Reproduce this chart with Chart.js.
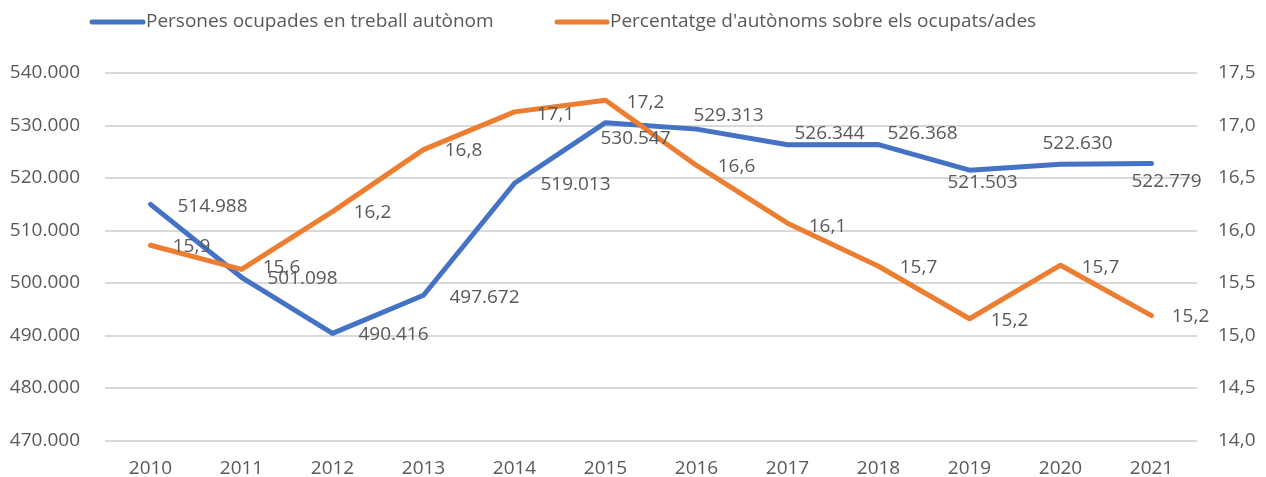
<!DOCTYPE html>
<html>
<head>
<meta charset="utf-8">
<script src="https://cdn.jsdelivr.net/npm/chart.js@4/dist/chart.umd.min.js"></script>
<style>
  html, body { margin: 0; padding: 0; background: #fff; }
  #wrap { width: 1266px; height: 477px; position: relative; }
</style>
</head>
<body>
<div id="wrap"><canvas id="chart"></canvas></div>
<script>
// dades
const years = ['2010','2011','2012','2013','2014','2015','2016','2017','2018','2019','2020','2021'];
const autonomous = [514988, 501098, 490416, 497672, 519013, 530547, 529313, 526344, 526368, 521503, 522630, 522779];
const percentage = [15.86, 15.63, 16.18, 16.77, 17.13, 17.24, 16.62, 16.07, 15.66, 15.16, 15.67, 15.19];
const seriesNames = ['Persones ocupades en treball autònom', "Percentatge d'autònoms sobre els ocupats/ades"];
const leftTicks = [470000, 540000, 10000];   // min, max, pas
const rightTicks = [14, 17.5, 0.5];

// posicions de les etiquetes (centre respecte al punt)
const blueLabelOffsets = [[62,2],[61,1],[61,1],[61,2],[61,1],[30,16],[32,-14],[42,-11],[44,-11],[13,12],[17,-21],[15,18]];
const orangeLabelOffsets = [[41,1],[40,-2],[40,1],[40,1],[41,3],[40,2],[40,1],[40,3],[40,1],[40,2],[40,2],[39,1]];

const C = { blue: '#4472C4', orange: '#ED7D31', text: '#595959', grid: '#d9d9d9' };
const FONT = '"Open Sans", "Liberation Sans", sans-serif';

const fmtThousands = v => Math.round(v).toString().replace(/\B(?=(\d{3})+(?!\d))/g, '.');
const fmtDecimal = v => Number(v).toFixed(1).replace('.', ',');

// etiquetes de dades
const dataLabels = {
  id: 'dataLabels',
  afterDatasetsDraw(chart) {
    const ctx = chart.ctx;
    ctx.save();
    ctx.font = '19px ' + FONT;
    ctx.fillStyle = C.text;
    ctx.textAlign = 'center';
    ctx.textBaseline = 'middle';
    chart.data.datasets.forEach((ds, k) => {
      const meta = chart.getDatasetMeta(k);
      const offs = k === 0 ? blueLabelOffsets : orangeLabelOffsets;
      const fmt = k === 0 ? fmtThousands : fmtDecimal;
      meta.data.forEach((pt, i) => {
        ctx.fillText(fmt(ds.data[i]), pt.x + offs[i][0], pt.y + offs[i][1]);
      });
    });
    ctx.restore();
  }
};

// llegenda a mida
const topLegend = {
  id: 'topLegend',
  afterDraw(chart) {
    const ctx = chart.ctx;
    const items = [[92, 143], [557, 607]];
    ctx.save();
    ctx.font = '19px ' + FONT;
    ctx.textBaseline = 'middle';
    chart.data.datasets.forEach((ds, k) => {
      const [x0, x1] = items[k];
      ctx.strokeStyle = ds.borderColor;
      ctx.lineWidth = 5;
      ctx.lineCap = 'round';
      ctx.beginPath(); ctx.moveTo(x0, 22); ctx.lineTo(x1, 22); ctx.stroke();
      ctx.fillStyle = C.text;
      ctx.fillText(ds.label, x1 + 3, 22);
    });
    ctx.restore();
  }
};

new Chart(document.getElementById('chart'), {
  type: 'line',
  data: {
    labels: years,
    datasets: [
      { label: seriesNames[0], data: autonomous, yAxisID: 'y', borderColor: C.blue, backgroundColor: C.blue,
        borderWidth: 5, pointRadius: 0, tension: 0, borderCapStyle: 'round', borderJoinStyle: 'round', order: 1 },
      { label: seriesNames[1], data: percentage, yAxisID: 'y1', borderColor: C.orange, backgroundColor: C.orange,
        borderWidth: 5, pointRadius: 0, tension: 0, borderCapStyle: 'round', borderJoinStyle: 'round', order: 0 },
    ]
  },
  options: {
    responsive: true,
    maintainAspectRatio: false,
    animation: false,
    layout: { padding: { top: 73, left: 0, right: 0, bottom: 0 } },
    plugins: { legend: { display: false }, tooltip: { enabled: false } },
    scales: {
      x: {
        offset: true,
        grid: { display: false, drawTicks: false },
        border: { display: false },
        ticks: { color: C.text, font: { family: FONT, size: 19 }, padding: 17, maxRotation: 0 },
        afterFit: s => { s.height = 35; }
      },
      y: {
        position: 'left',
        min: leftTicks[0], max: leftTicks[1],
        grid: { color: C.grid, lineWidth: 2, drawTicks: false },
        border: { display: false },
        ticks: { stepSize: leftTicks[2], color: C.text, font: { family: FONT, size: 19 }, padding: 25, callback: fmtThousands },
        afterFit: s => { s.width = 105; }
      },
      y1: {
        position: 'right',
        min: rightTicks[0], max: rightTicks[1],
        grid: { display: false, drawTicks: false },
        border: { display: false },
        ticks: { stepSize: rightTicks[2], color: C.text, font: { family: FONT, size: 19 }, padding: 21, callback: fmtDecimal },
        afterFit: s => { s.width = 69; }
      }
    }
  },
  plugins: [dataLabels, topLegend]
});
</script>
</body>
</html>
